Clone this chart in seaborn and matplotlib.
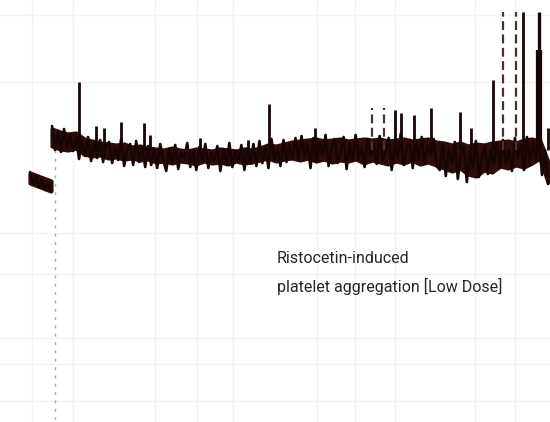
import numpy as np
import matplotlib
matplotlib.use("Agg")
import matplotlib.pyplot as plt
import seaborn as sns

# trace, in picture units (x right, y down)
pre_upper = [173, 175, 177, 179, 181]
pre_lower = [183, 185, 187, 189, 191]
pre_y = [172, 184, 176, 187, 179, 190, 182, 192]

# core of the noisy trace, sampled evenly from x=52 to x=548
band_upper = [129, 132, 134, 133, 139, 141, 143, 144, 145, 144, 147, 146, 148, 149, 150, 148,
              150, 151, 149, 150, 151, 149, 150, 151, 149, 150, 148, 145, 146, 144, 142, 141,
              140, 139, 141, 140, 139, 141, 140, 139, 140, 139, 141, 140, 139, 141, 140, 139,
              142, 143, 145, 143, 146, 144, 145, 143, 142, 141, 143, 140, 139, 141, 162]
band_lower = [146, 149, 150, 148, 154, 156, 155, 158, 157, 159, 158, 160, 159, 162, 161, 163,
              161, 162, 164, 161, 163, 162, 164, 161, 163, 162, 160, 158, 161, 159, 158, 160,
              158, 161, 159, 162, 160, 161, 159, 163, 160, 162, 164, 161, 163, 160, 164, 162,
              165, 168, 171, 168, 174, 176, 170, 172, 166, 168, 165, 167, 163, 158, 182]

# pen jitter around the core, sampled evenly from x=52 to x=548
trace_y = [126, 150, 131, 152, 129, 147, 134, 151,
           138, 159, 141, 156, 137, 161, 143, 158, 140, 162, 145,
           142, 163, 147, 160, 139, 166, 150, 144, 165, 141, 162, 148, 167,
           146, 165, 150, 168, 144, 160, 171, 149, 163, 145, 169, 152, 158, 143, 167, 150,
           170, 147, 162, 144, 168, 153, 160, 146, 171, 149, 165, 143, 167, 151, 161, 145,
           170, 148, 163, 144, 166,
           141, 163, 146, 168, 139, 160, 150, 166, 140, 162, 145, 158, 138,
           160, 136, 157, 145, 168, 138, 162, 142, 155, 135, 166, 147, 139, 163, 152, 137,
           169, 144, 160, 135, 158, 148, 167, 139, 156, 143, 164, 136, 161, 150, 138, 170,
           145, 157, 134, 165, 149, 140, 168, 142, 159, 137, 163, 146, 155, 139, 166,
           170, 144, 176, 150, 163, 142, 179, 155, 147, 182, 152, 168, 141, 177, 158, 146,
           174, 150, 165, 143,
           168, 140, 163, 150, 171, 138, 158, 145, 170, 137, 165, 142, 160,
           136, 175, 150, 184]

# spikes: position and tip
spike_x = [79, 96, 104, 121, 144, 150, 200, 248, 269, 315, 395, 401, 414, 431, 460, 471, 493, 523, 548]
spike_top = [82, 126, 128, 122, 123, 135, 138, 140, 104, 128, 110, 113, 115, 108, 112, 128, 80, 12, 128]
dotted_spike_x = [372, 384, 503, 516]
dotted_spike_top = [108, 108, 12, 12]
big_spike_x = [539]
big_spike_top = [12]

grid_y = [15, 82, 233, 274, 338, 364, 401]
grid_x = [32, 73, 155, 197, 233, 317, 355, 395, 475, 515]

label_lines = ["Ristocetin-induced", "platelet aggregation [Low Dose]"]

sns.set_style("white")
fig = plt.figure(figsize=(5.5, 4.22), dpi=100)
ax = fig.add_axes([0, 0, 1, 1])

# faint chart-paper grid
for gy in grid_y:
    ax.axhline(gy, color="#f3f3f3", lw=1, zorder=0)
for gx in grid_x:
    ax.axvline(gx, color="#f3f3f3", lw=1, zorder=0)

# reagent marker
ax.vlines(55, 150, 422, color="#a8a8a8", lw=1, linestyles=(0, (2, 4)), zorder=1)

ink = "#180606"
band = "#2e0c0c"
bx = np.linspace(52, 548, len(band_upper))
tx = np.linspace(52, 548, len(trace_y))
pbx = np.linspace(30, 51, len(pre_upper))
px = np.linspace(30, 51, len(pre_y))

ax.fill_between(bx, band_upper, band_lower, color=band, edgecolor=band, lw=3, zorder=2)
ax.fill_between(pbx, pre_upper, pre_lower, color=band, edgecolor=band, lw=3, zorder=2)
sns.lineplot(x=tx, y=trace_y, ax=ax, color=ink, lw=1.9, sort=False, zorder=3)
sns.lineplot(x=px, y=pre_y, ax=ax, color=ink, lw=1.9, sort=False, zorder=3)

ax.vlines(spike_x, 150, spike_top, color=ink, lw=2, zorder=3)
ax.vlines(dotted_spike_x, 150, dotted_spike_top, color="#4a3030", lw=1.6,
          linestyles=(0, (4, 2)), zorder=3)
ax.vlines(big_spike_x, 150, big_spike_top, color=ink, lw=2.4, zorder=3)
ax.vlines(big_spike_x, 150, [50], color=ink, lw=4.5, zorder=3)

for line, base in zip(label_lines, [263, 292]):
    ax.text(277, base, line, fontsize=11.5, color="#262626", va="baseline", ha="left",
            family=["Roboto", "DejaVu Sans"])

ax.set_xlim(0, 550)
ax.set_ylim(422, 0)
ax.axis("off")

fig.savefig("out.png", dpi=100, facecolor="white")
